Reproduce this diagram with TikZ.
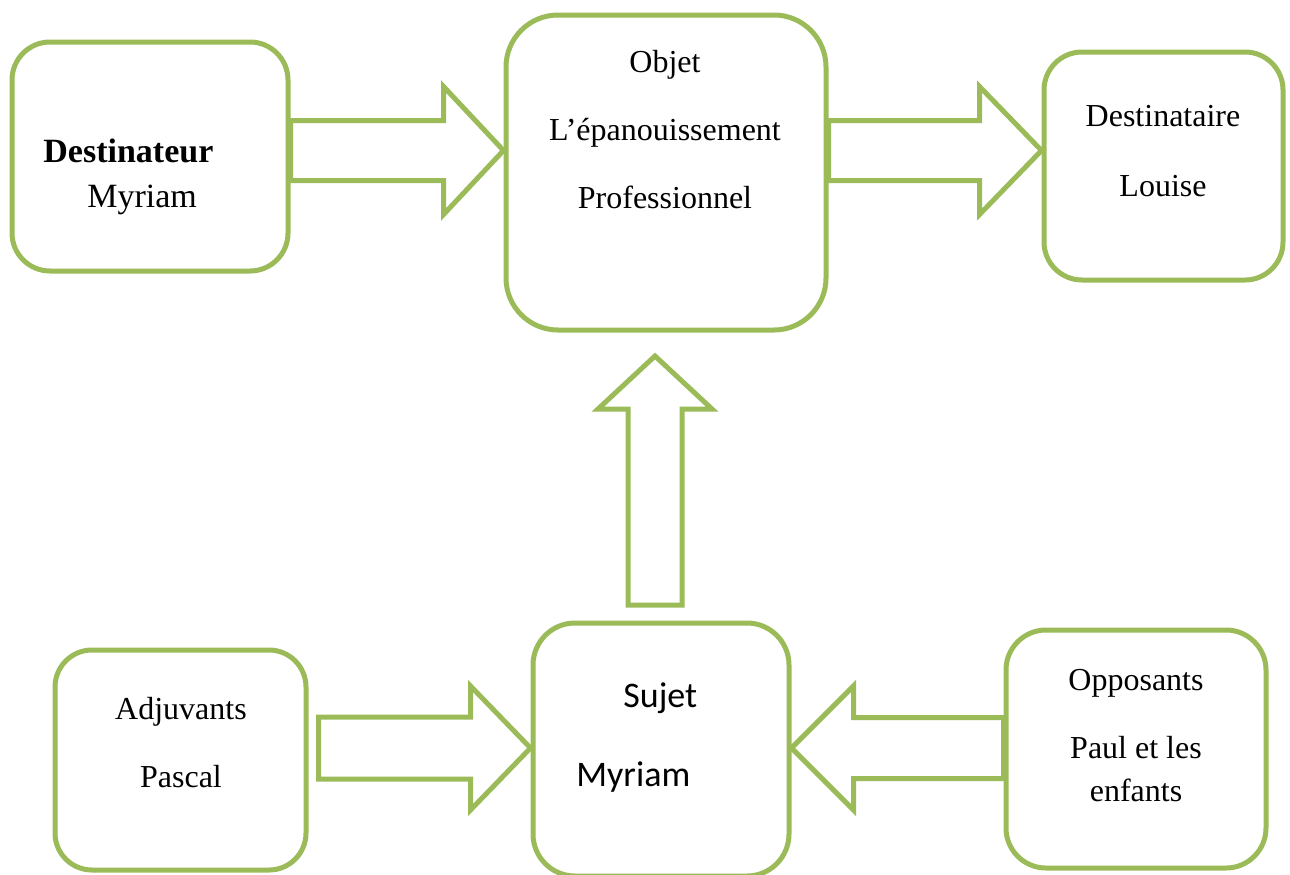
\documentclass[tikz,border=0pt]{standalone}
\usepackage{fontspec}
\setmainfont{Liberation Serif}
\newfontfamily\sujetfont{Carlito}
\usetikzlibrary{calc}
\definecolor{boxgreen}{RGB}{155,187,89}

% hollow block arrow: tail, tip, shaft half width, head half width, head length
\newcommand{\blockarrow}[5]{%
  \coordinate (ahead) at ($(#2)!#5!(#1)$);
  \draw[arrowline] ($(#1)!#3!90:(#2)$) -- ($(ahead)!#3!90:(#2)$)
    -- ($(ahead)!#4!90:(#2)$) -- (#2) -- ($(ahead)!#4!-90:(#2)$)
    -- ($(ahead)!#3!-90:(#2)$) -- ($(#1)!#3!-90:(#2)$) -- cycle;}

\begin{document}
\begin{tikzpicture}[x=0.5pt, y=-0.5pt,
    box/.style={draw=boxgreen, line width=2.5pt, fill=white, inner sep=0pt},
    arrowline/.style={draw=boxgreen, line width=2.5pt, line join=miter},
    txt/.style={font=\fontsize{16}{19}\selectfont, inner sep=0pt, anchor=base},
    bigtxt/.style={font=\fontsize{17}{20}\selectfont, inner sep=0pt, anchor=base west},
    sujettxt/.style={font=\sujetfont\fontsize{18}{22}\selectfont, inner sep=0pt, anchor=base west}]
    \useasboundingbox (0,0) rectangle (1290,874);

    % the six actants
    \node[box, rounded corners=19pt, minimum width=138pt, minimum height=114.5pt] (dest) at (150,156.5) {};
    \node[box, rounded corners=26pt, minimum width=160pt, minimum height=157.5pt] (objet) at (666,172.5) {};
    \node[box, rounded corners=19pt, minimum width=119.5pt, minimum height=114pt] (destin) at (1163.5,166) {};
    \node[box, rounded corners=18.5pt, minimum width=125.5pt, minimum height=110pt] (adj) at (180.5,760) {};
    \node[box, rounded corners=21pt, minimum width=128pt, minimum height=126.5pt] (sujet) at (661,749.5) {};
    \node[box, rounded corners=20pt, minimum width=130pt, minimum height=119pt] (opp) at (1136,749) {};

    % texts
    \node[bigtxt] (destA) at (43,162) {\bfseries Destinateur};
    \node[bigtxt] (destB) at (87,207) {Myriam};
    \node[txt] (objetA) at (665,72) {Objet};
    \node[txt] (objetB) at (665,140) {L’épanouissement};
    \node[txt] (objetC) at (665,208) {Professionnel};
    \node[txt] (destinA) at (1163,126) {Destinataire};
    \node[txt] (destinB) at (1163,196) {Louise};
    \node[txt] (adjA) at (181,719) {Adjuvants};
    \node[txt] (adjB) at (181,787) {Pascal};
    \node[sujettxt] (sujetA) at (623,707) {Sujet};
    \node[sujettxt] (sujetB) at (576,786) {Myriam};
    \node[txt] (oppA) at (1136,690) {Opposants};
    \node[txt] (oppB) at (1136,758) {Paul et les};
    \node[txt] (oppC) at (1136,801) {enfants};

    % block arrows
    \blockarrow{dest.east |- 0,150.5}{objet.west |- 0,150.5}{15pt}{32pt}{30pt}
    \blockarrow{objet.east |- 0,150.5}{destin.west |- 0,150.5}{15pt}{32pt}{31pt}
    \coordinate (upTail) at (655,605);
    \coordinate (upTip) at (655,356);
    \blockarrow{upTail}{upTip}{13.5pt}{28.5pt}{26.5pt}
    \blockarrow{$(adj.east |- 0,748)+(10,0)$}{sujet.west |- 0,748}{15.5pt}{31pt}{30pt}
    \blockarrow{opp.west |- 0,748}{sujet.east |- 0,748}{15.25pt}{31pt}{31pt}
\end{tikzpicture}
\end{document}
